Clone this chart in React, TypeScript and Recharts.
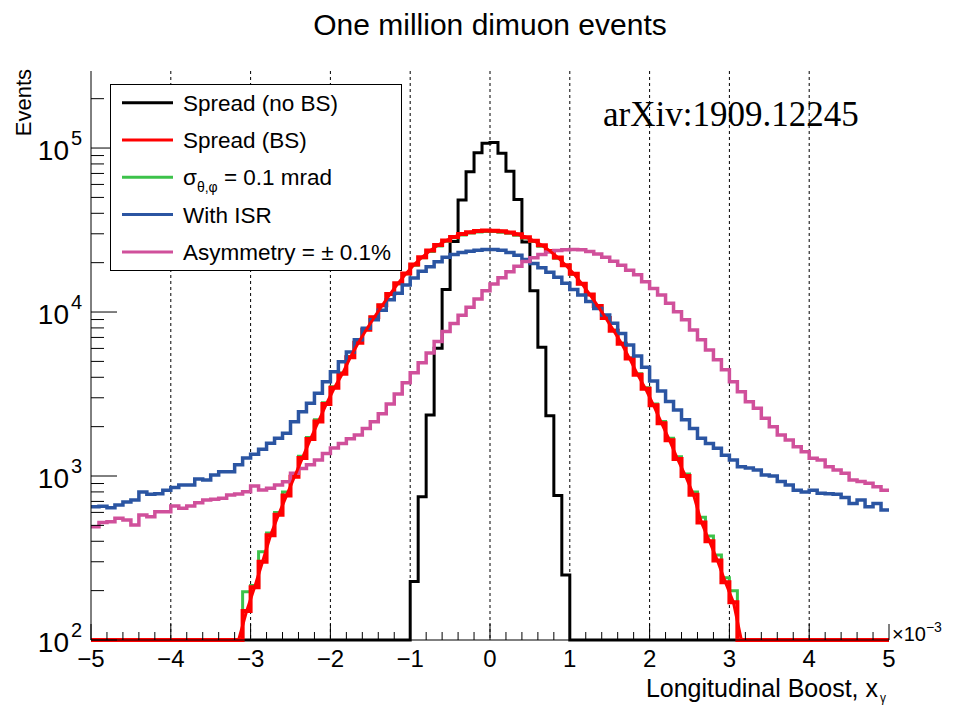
import { LineChart, Line, XAxis, YAxis, CartesianGrid } from 'recharts';

const W = 954;
const H = 706;
const SANS = '"Liberation Sans", Arial, Helvetica, sans-serif';
const SERIF = '"Liberation Serif", "Times New Roman", serif';

// 100 bins of 0.1 (units of 1e-3) between -5 and 5
const X_MIN = -5;
const BIN_WIDTH = 0.1;
const Y_MIN = 100;
const Y_MAX = 295000;

// events per bin (0 = empty bin)
const noBS = [
  0, 0, 0, 0, 0, 0, 0, 0, 0, 0, 0, 0, 0, 0, 0, 0, 0, 0, 0, 0,
  0, 0, 0, 0, 0, 0, 0, 0, 0, 0, 0, 0, 0, 0, 0, 0, 0, 0, 0, 0,
  227, 748, 2355, 6010, 13700, 26900, 48200, 71800, 93500, 107000,
  108000, 93000, 72300, 48600, 26700, 13500, 6100, 2330, 760, 249,
  0, 0, 0, 0, 0, 0, 0, 0, 0, 0, 0, 0, 0, 0, 0, 0, 0, 0, 0, 0,
  0, 0, 0, 0, 0, 0, 0, 0, 0, 0, 0, 0, 0, 0, 0, 0, 0, 0, 0, 0,
];

const spreadBS = [
  0, 0, 0, 0, 0, 0, 0, 0, 0, 0, 0, 0, 0, 0, 0, 0, 0, 0, 0,
  150, 210, 300, 435, 580, 760, 990, 1290, 1680, 2150,
  2750, 3450, 4200, 5300, 6500, 7800, 9300, 11000, 12900, 15000,
  17200, 19500, 21600, 23700, 25600, 27300, 28700, 29900, 30700, 31200,
  31400, 31300, 31100, 30600, 29800, 28600, 27200, 25500, 23600, 21500,
  19300, 17100, 14900, 12800, 10900, 9200, 7700, 6400, 5200, 4150,
  3400, 2700, 2100, 1650, 1270, 1000, 770, 520, 400, 305,
  225, 170,
  0, 0, 0, 0, 0, 0, 0, 0, 0, 0, 0, 0, 0, 0, 0, 0, 0, 0, 0,
];

const angularSpread = [
  0, 0, 0, 0, 0, 0, 0, 0, 0, 0, 0, 0, 0, 0, 0, 0, 0, 0, 0,
  197, 215, 345, 450, 600, 800, 1030, 1320, 1720, 2200,
  2800, 3500, 4250, 5350, 6550, 7850, 9300, 11000, 12900, 14900,
  17100, 19300, 21400, 23400, 25300, 27000, 28400, 29500, 30300, 30800,
  31000, 31000, 30700, 30200, 29400, 28300, 26900, 25200, 23400, 21300,
  19200, 17000, 14900, 12800, 10900, 9250, 7750, 6450, 5250, 4200,
  3450, 2750, 2150, 1700, 1310, 1030, 800, 560, 430, 330,
  240, 200,
  0, 0, 0, 0, 0, 0, 0, 0, 0, 0, 0, 0, 0, 0, 0, 0, 0, 0, 0,
];

const withISR = [
  650, 655, 640, 665, 695, 714, 800, 775, 780, 820,
  850, 880, 880, 960, 946, 1015, 1060, 1060, 1170, 1290,
  1356, 1455, 1583, 1698, 1820, 2145, 2466, 2775, 3192, 3757,
  4323, 4975, 5700, 6770, 7950, 8970, 10250, 11880, 13000, 14600,
  16100, 17700, 18900, 20250, 21600, 22400, 23100, 23500, 23800, 24100,
  24100, 23800, 23100, 22200, 20900, 19800, 18600, 17500, 16300, 15000,
  13700, 12700, 11600, 10500, 9600, 8530, 7400, 6300, 5400, 4600,
  3800, 3300, 2850, 2530, 2200, 1950, 1700, 1580, 1475, 1340,
  1250, 1140, 1120, 1090, 1015, 1000, 925, 880, 820, 800,
  820, 785, 780, 775, 740, 680, 714, 650, 680, 620,
];

const asymmetry = [
  491, 520, 526, 552, 539, 502, 578, 565, 606, 606,
  656, 635, 656, 687, 714, 721, 731, 766, 777, 802,
  869, 822, 842, 881, 923, 1040, 1110, 1170, 1250, 1370,
  1480, 1580, 1690, 1780, 1950, 2140, 2400, 2750, 3160, 3700,
  4270, 4900, 5620, 6600, 7600, 8500, 9550, 10700, 12000, 13500,
  14800, 16200, 17600, 19000, 20300, 21400, 22400, 23200, 23700, 24000,
  24100, 24000, 23400, 22600, 21600, 20400, 19300, 18000, 16900, 15300,
  13900, 12700, 11300, 10050, 8970, 7760, 6770, 5870, 5110, 4440,
  3760, 3260, 2840, 2590, 2250, 2000, 1780, 1660, 1510, 1407,
  1282, 1253, 1140, 1090, 1038, 946, 925, 902, 861, 820,
];

const xMajorTicks = [-5, -4, -3, -2, -1, 0, 1, 2, 3, 4, 5];
const xGridLines = [-4, -3, -2, -1, 0, 1, 2, 3, 4];
const yMajorTicks = [100, 1000, 10000, 100000];

const series = [
  { key: 'noBS', values: noBS, color: '#000000', width: 3 },
  { key: 'angular', values: angularSpread, color: '#3cc24a', width: 3 },
  { key: 'bs', values: spreadBS, color: '#ff0000', width: 4 },
  { key: 'isr', values: withISR, color: '#2b55a2', width: 3.5 },
  { key: 'asym', values: asymmetry, color: '#d0509b', width: 3.5 },
];

const legendColors = ['#000000', '#ff0000', '#3cc24a', '#2b55a2', '#d0509b'];

const nBins = noBS.length;
const edges = Array.from({ length: nBins + 1 }, (_, i) => Math.round((X_MIN + i * BIN_WIDTH) * 100) / 100);
const clampFloor = (v: number) => Math.max(v, Y_MIN);

// step table: one row per bin edge, last edge repeats the last bin
const stepRows = edges.map((x, i) => {
  const k = Math.min(i, nBins - 1);
  const row: Record<string, number> = { x };
  series.forEach((s) => {
    row[s.key] = clampFloor(s.values[k]);
  });
  return row;
});

// bin centres for the smoothed BS curve
const bsCentreRows = spreadBS.map((v, i) => ({
  x: Math.round((X_MIN + (i + 0.5) * BIN_WIDTH) * 1000) / 1000,
  bs: clampFloor(v),
}));

const xTicks = Array.from({ length: 51 }, (_, i) => Math.round((X_MIN + i * 0.2) * 10) / 10);
const yTicks = yMajorTicks
  .flatMap((d) => [1, 2, 3, 4, 5, 6, 7, 8, 9].map((m) => m * d))
  .filter((v) => v <= Y_MAX);

function XTick(props: any) {
  const { x, y, payload } = props;
  const v = payload.value as number;
  const major = xMajorTicks.includes(v);
  const label = v < 0 ? `\u2212${Math.abs(v)}` : `${v}`;
  return (
    <g>
      <line x1={x} x2={x} y1={y} y2={y - (major ? 16 : 8)} stroke="#000" strokeWidth={1} />
      {major && (
        <text x={x} y={y + 27} textAnchor="middle" fontSize={24} fontFamily={SANS} fill="#000">
          {label}
        </text>
      )}
    </g>
  );
}

function YTick(props: any) {
  const { x, y, payload } = props;
  const v = payload.value as number;
  const major = yMajorTicks.includes(v);
  const exp = Math.round(Math.log10(v));
  return (
    <g>
      <line x1={x} x2={x + (major ? 26 : 13)} y1={y} y2={y} stroke="#000" strokeWidth={1} />
      {major && (
        <text x={x - 22} y={y + 12} textAnchor="end" fontSize={28} fontFamily={SANS} fill="#000">
          10
        </text>
      )}
      {major && (
        <text x={x - 20} y={y - 3} textAnchor="start" fontSize={20} fontFamily={SANS} fill="#000">
          {exp}
        </text>
      )}
    </g>
  );
}

function Overlay() {
  const rowY = [102.7, 140, 177.3, 214.6, 251.9];
  return (
    <svg
      width={W}
      height={H}
      style={{ position: 'absolute', left: 0, top: 0, pointerEvents: 'none' }}
      fontFamily={SANS}
    >
      <text x={490} y={35} textAnchor="middle" fontSize={30} fill="#000">
        One million dimuon events
      </text>
      <text x={603} y={126} fontSize={35} fontFamily={SERIF} fill="#000">
        arXiv:1909.12245
      </text>
      <text transform="translate(31, 69) rotate(-90)" textAnchor="end" fontSize={22} fill="#000">
        Events
      </text>
      <text x={878} y={697} textAnchor="end" fontSize={25} fill="#000">
        Longitudinal Boost, x
      </text>
      <text x={880} y={702} fontSize={12} fill="#000">
        γ
      </text>
      <text x={892} y={641} fontSize={20} fill="#000">
        ×10
        <tspan dy={-9} fontSize={14}>
          {'\u22123'}
        </tspan>
      </text>

      <rect x={110.5} y={84.5} width={291} height={186} fill="#fff" stroke="#000" strokeWidth={1} />
      {rowY.map((cy, i) => (
        <line key={i} x1={122} x2={173} y1={cy} y2={cy} stroke={legendColors[i]} strokeWidth={3} />
      ))}
      <text x={183} y={rowY[0] + 8} fontSize={22.5} fill="#000">
        Spread (no BS)
      </text>
      <text x={183} y={rowY[1] + 8} fontSize={22.5} fill="#000">
        Spread (BS)
      </text>
      <text x={183} y={rowY[2] + 8} fontSize={22.5} fill="#000">
        σ
        <tspan dy={7} fontSize={14}>
          θ,φ
        </tspan>
        <tspan dy={-7}> = 0.1 mrad</tspan>
      </text>
      <text x={183} y={rowY[3] + 8} fontSize={22.5} fill="#000">
        With ISR
      </text>
      <text x={183} y={rowY[4] + 8} fontSize={22.5} fill="#000">
        Asymmetry = ± 0.1%
      </text>
    </svg>
  );
}

export default function App() {
  return (
    <div style={{ position: 'relative', width: W, height: H, background: '#fff' }}>
      <style>{'body { margin: 0; }'}</style>
      <LineChart width={W} height={H} data={stepRows} margin={{ top: 71, right: 65, bottom: 0, left: 0 }}>
        <CartesianGrid
          horizontal={false}
          verticalValues={xGridLines}
          stroke="#000"
          strokeDasharray="3 3"
          strokeWidth={1}
        />
        <XAxis
          dataKey="x"
          type="number"
          domain={[-5, 5]}
          ticks={xTicks}
          interval={0}
          tickSize={0}
          tickMargin={0}
          tickLine={false}
          tick={XTick}
          height={66}
          axisLine={{ stroke: '#000', strokeWidth: 1 }}
        />
        <XAxis
          xAxisId="top"
          orientation="top"
          type="number"
          domain={[-5, 5]}
          tick={false}
          tickLine={false}
          height={0}
          axisLine={{ stroke: '#000', strokeWidth: 1 }}
        />
        <YAxis
          type="number"
          scale="log"
          domain={[Y_MIN, Y_MAX]}
          ticks={yTicks}
          interval={0}
          tickSize={0}
          tickMargin={0}
          tickLine={false}
          tick={YTick}
          width={91}
          axisLine={{ stroke: '#000', strokeWidth: 1 }}
        />
        <YAxis
          yAxisId="right"
          orientation="right"
          type="number"
          scale="log"
          domain={[Y_MIN, Y_MAX]}
          tick={false}
          tickLine={false}
          width={0}
          axisLine={{ stroke: '#000', strokeWidth: 1 }}
        />
        {series.map((s) => (
          <Line
            key={s.key}
            dataKey={s.key}
            type="stepAfter"
            stroke={s.color}
            strokeWidth={s.width}
            dot={false}
            activeDot={false}
            isAnimationActive={false}
          />
        ))}
        <Line
          data={bsCentreRows}
          dataKey="bs"
          type="linear"
          stroke="#ff0000"
          strokeWidth={3}
          dot={false}
          activeDot={false}
          isAnimationActive={false}
        />
      </LineChart>
      <Overlay />
    </div>
  );
}
